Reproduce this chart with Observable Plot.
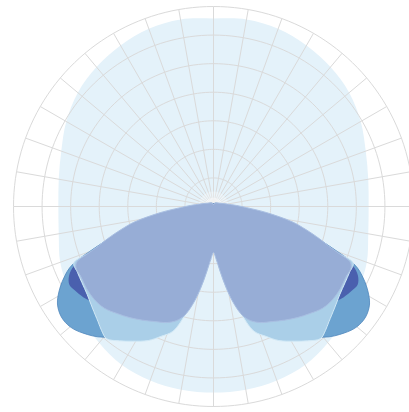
<!DOCTYPE html>
<html><head><meta charset="utf-8">
<script src="https://cdn.jsdelivr.net/npm/d3@7"></script>
<script src="https://cdn.jsdelivr.net/npm/@observablehq/plot@0.6"></script>
<style>html,body{margin:0;padding:0;background:#fff;overflow:hidden}</style>
</head><body><div id="chart"></div>
<script>
// Polar grid
const ringValues = [100, 200, 300, 400, 500, 600, 700];
const spokeAngles = d3.range(0, 360, 10);
const maxValue = 700;

// Curves: angle from nadir (deg), intensity (cd) — mirrored left/right
const blobAngles = [0, 10, 20, 30, 40, 50, 60, 70, 80, 90, 100, 110, 120, 130, 140, 150, 160, 170, 180];
const blobValues = [651, 651, 648, 641, 623, 602, 585, 571, 550, 543, 550, 567, 595, 620, 637, 651, 662, 665, 658];

const blueAngles = [0, 10, 20, 30, 40, 46, 50, 54, 58, 62, 65, 67, 68.5, 70, 73, 76, 80, 90, 120, 150, 180];
const blueValues = [133, 238, 368, 490, 597, 637, 655, 658, 644, 609, 574, 546, 511, 462, 378, 298, 217, 77, 21, 14, 10];

const navyAngles = [0, 20, 30, 40, 45, 50, 55, 59, 61.5, 64.5, 67, 69, 72, 76, 80, 90, 120, 180];
const navyValues = [105, 280, 385, 490, 518, 532, 555, 568, 574, 560, 530, 473, 368, 280, 193, 70, 18, 10];

const cyanAngles = [0, 6, 10, 14, 18, 22, 26, 31, 35, 39, 42, 45, 50, 55, 60, 64, 68, 69.5, 72, 76, 80, 85, 90, 100, 120, 150, 180];
const cyanValues = [140, 228, 308, 378, 459, 490, 522, 550, 574, 595, 585, 571, 553, 539, 532, 529, 527, 455, 368, 298, 228, 140, 77, 42, 21, 10, 7];

const purpleAngles = [0, 3, 6, 9, 12, 15, 18, 22, 27, 32, 37, 42, 47, 52, 57, 62, 66, 68, 69.5, 71, 73, 76, 79, 83.5, 88, 92.5, 100, 110, 130, 150, 165, 180];
const purpleValues = [161, 186, 231, 291, 350, 396, 420, 438, 452, 469, 487, 504, 522, 529, 529, 525, 527, 515, 469, 427, 389, 333, 280, 186, 116, 81, 49, 32, 19, 14, 10, 6];

function toXY(angle, value, side) {
  const a = angle * Math.PI / 180;
  return {x: side * value * Math.sin(a), y: -value * Math.cos(a)};
}
function outline(angles, values) {
  const left = angles.map((a, i) => toXY(a, values[i], -1));
  const right = angles.map((a, i) => toXY(a, values[i], 1)).reverse();
  return left.concat(right.slice(1, -1));
}
const ringPoints = ringValues.flatMap(v => d3.range(0, 360, 2).map(a => ({ring: v, ...toXY(a, v, 1)})));
const spokes = spokeAngles.map(a => ({a, ...toXY(a, maxValue, 1)}));

const shape = (angles, values, fill, stroke, sw) =>
  Plot.line(outline(angles, values), {x: "x", y: "y", fill, stroke, strokeWidth: sw, curve: "catmull-rom-closed"});

const chart = Plot.plot({
  width: 409, height: 412,
  marginLeft: 13, marginRight: 0, marginTop: 6, marginBottom: 6,
  x: {domain: [-700, 686], axis: null},
  y: {domain: [-700, 700], axis: null},
  marks: [
    shape(blobAngles, blobValues, "#e4f2fa", "none", 0),
    Plot.line(ringPoints, {x: "x", y: "y", z: "ring", stroke: "#dadada", strokeWidth: 1, curve: "linear-closed"}),
    Plot.link(spokes, {x1: () => 0, y1: () => 0, x2: "x", y2: "y", stroke: "#dadada", strokeWidth: 1}),
    Plot.dot([0], {x: () => 0, y: () => 0, r: 15, fill: "#ffffff", fillOpacity: 0.3, stroke: "none"}),
    Plot.dot([0], {x: () => 0, y: () => 0, r: 9, fill: "#ffffff", fillOpacity: 0.45, stroke: "none"}),
    shape(blueAngles, blueValues, "#6ca3d0", "#4f86bd", 0.8),
    shape(navyAngles, navyValues, "#4a60ae", "none", 0),
    shape(cyanAngles, cyanValues, "#aacfe8", "#d2e9f6", 1),
    shape(purpleAngles, purpleValues, "#97add6", "#a9bfe2", 1)
  ]
});
document.getElementById("chart").appendChild(chart);
</script>
</body></html>
